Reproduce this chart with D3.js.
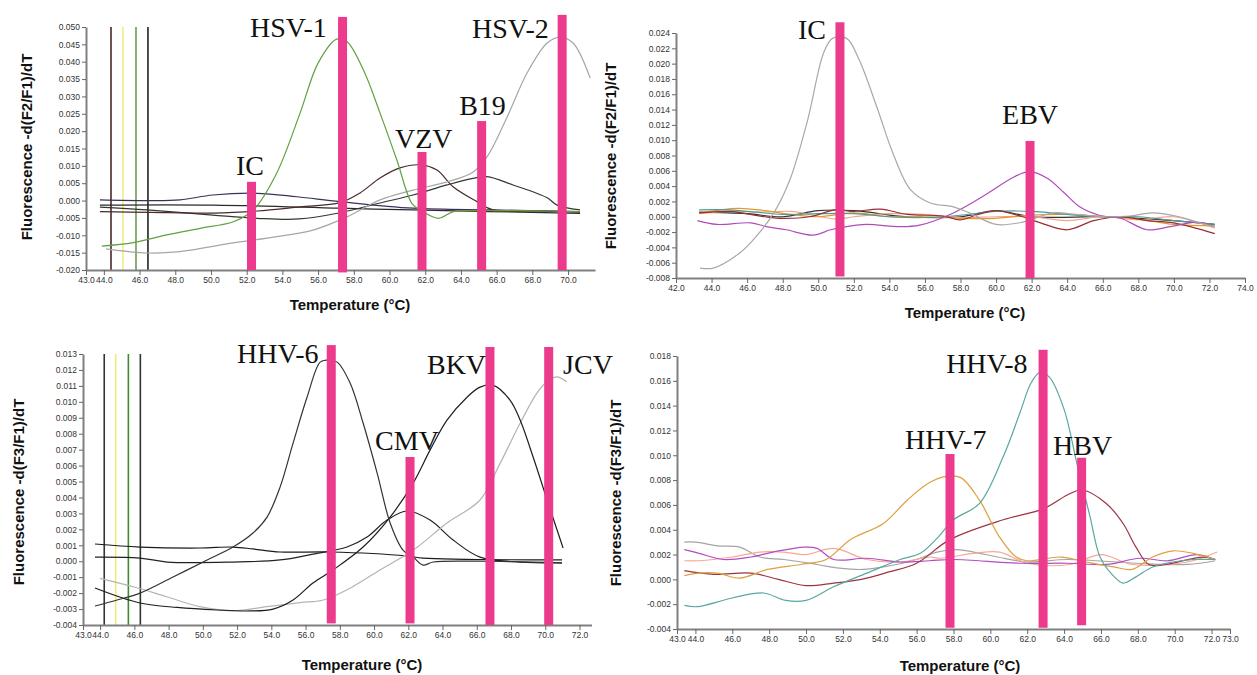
<!DOCTYPE html>
<html><head><meta charset="utf-8">
<script src="https://cdn.jsdelivr.net/npm/d3@7"></script>
<style>
body{margin:0;background:#fff;}
svg{display:block;}
.tick text{font-family:"Liberation Sans",Arial,sans-serif;font-size:8.5px;fill:#333;}
.domain{stroke:#808080;stroke-width:2;}
.tick line{stroke:#666;}
</style></head><body>
<svg id="c" width="1257" height="675"></svg>
<script>
// ---------- Panel A (top-left) ----------
const aXTicks = [43,44,46,48,50,52,54,56,58,60,62,64,66,68,70];
const aYTicks = [-0.020,-0.015,-0.010,-0.005,0,0.005,0.010,0.015,0.020,0.025,0.030,0.035,0.040,0.045,0.050];
const aHSV1 = [[43.88,-0.0131],[45.65,-0.0121],[47.52,-0.0099],[49.39,-0.0080],[51.25,-0.0061],[52.37,-0.0027],[53.68,0.0079],[54.99,0.0252],[56.0,0.0396],[57.04,0.0465],[57.61,0.0458],[58.54,0.0376],[59.47,0.0252],[60.41,0.0117],[61.25,-0.0008],[61.71,-0.0027],[62.74,-0.0051],[63.58,-0.0032],[65.07,-0.0029],[67.5,-0.0029],[70.67,-0.0032]];
const aHSV2 = [[44.12,-0.0139],[46.42,-0.0151],[48.10,-0.0148],[51.24,-0.0122],[53.14,-0.0108],[55.72,-0.0085],[57.62,-0.0047],[59.47,0.0002],[61.32,0.0030],[63.22,0.0054],[64.62,0.0080],[65.46,0.0126],[66.59,0.0241],[67.71,0.0368],[68.83,0.0454],[69.55,0.0471],[70.28,0.0454],[71.24,0.0353]];
const aVZV = [[43.78,-0.0032],[46.59,-0.0034],[50.11,-0.0036],[52.58,-0.0030],[54.99,-0.0018],[57.23,-0.0006],[58.35,0.0022],[59.47,0.0065],[60.59,0.0094],[61.71,0.0103],[62.66,0.0088],[63.56,0.0040],[64.90,-0.0003],[65.80,-0.0027],[68.43,-0.0030],[70.67,-0.0033]];
const aB19 = [[43.78,-0.0019],[46.42,-0.0027],[50.11,-0.0042],[52.58,-0.0051],[54.93,-0.0053],[57.23,-0.0035],[59.47,-0.0007],[61.32,0.0016],[63.22,0.0045],[64.68,0.0064],[65.46,0.0069],[66.92,0.0045],[68.83,0.0008],[69.39,-0.0013],[70.67,-0.0027]];
const aIC = [[43.78,0.0002],[46.42,0.0],[48.27,0.0002],[50.11,0.0016],[52.58,0.0021],[54.82,0.0011],[57.23,-0.0003],[61.32,-0.0022],[65.9,-0.0027],[70.67,-0.0032]];
const aFlat = [[43.78,-0.0013],[50.11,-0.0013],[57.23,-0.0022],[61.32,-0.0027],[70.67,-0.0037]];
const aRefTemps = [44.40,45.07,45.80,46.47];
const aBarNames = ["IC","HSV-1","VZV","B19","HSV-2"];
const aBarTemps = [52.27,57.37,61.82,65.16,69.67];
const aBarTops = [0.0054,0.0529,0.014,0.0229,0.0535];
const aBarBottoms = [-0.020,-0.0207,-0.020,-0.020,-0.020];
const aLabelAt = [[51.40,0.0074],[52.19,0.0471],[60.31,0.0152],[63.90,0.0247],[64.62,0.0468]];

// ---------- Panel B (top-right) ----------
const bXTicks = [42,44,46,48,50,52,54,56,58,60,62,64,66,68,70,72,74];
const bYTicks = [-0.008,-0.006,-0.004,-0.002,0,0.002,0.004,0.006,0.008,0.010,0.012,0.014,0.016,0.018,0.020,0.022,0.024];
const bIC = [[43.35,-0.0067],[44.1,-0.0067],[45.6,-0.0047],[46.5,-0.0026],[47.5,0.0005],[48.4,0.0048],[49.4,0.0126],[50.3,0.0214],[50.8,0.0233],[51.6,0.0233],[52.3,0.0205],[53.3,0.0143],[54.2,0.0083],[55.2,0.0035],[56.3,0.0018],[57.6,0.0013],[58.5,0.0005],[60.0,-0.0010],[61.5,-0.0007],[63.2,0.0005],[64.5,0.0003],[66.2,0.0],[67.5,0.0001],[68.8,0.0005],[70.3,0.0],[71.3,-0.0007],[72.3,-0.0013]];
const bEBV = [[43.2,-0.0005],[44.3,-0.0010],[46.2,-0.0008],[47.1,-0.0013],[48.2,-0.0017],[49.7,-0.0024],[50.7,-0.0017],[51.6,-0.0013],[52.7,-0.0010],[54.6,-0.0013],[55.7,-0.0011],[57.6,0.0005],[59.5,0.0030],[61.0,0.0052],[61.9,0.0059],[62.9,0.0050],[63.8,0.0032],[64.7,0.0013],[65.8,0.0002],[67.0,-0.0002],[68.5,-0.0017],[69.8,-0.0013],[71.3,-0.0007],[72.3,-0.0013]];
const bTeal = [[43.3,0.0009],[45,0.0009],[46.5,0.0006],[48,0.0003],[50,0.0004],[52,0.0004],[54,0.0],[56,-0.0001],[58,0.0002],[60,0.0007],[62,0.0007],[64,0.0003],[66,0.0],[68,0.0],[70,-0.0005],[72.3,-0.0010]];
const bOrange = [[43.3,0.0005],[45.5,0.0011],[47,0.0008],[48.5,0.0003],[50,0.0],[52,0.0005],[54,0.0],[56,0.0],[58,-0.0002],[60,-0.0002],[62,0.0002],[64,0.0003],[66,0.0],[68,-0.0003],[70,-0.0010],[72.3,-0.0012]];
const bDarkRed = [[43.3,0.0005],[45,0.0007],[47,0.0],[48,-0.0002],[49.5,0.0],[51,0.0009],[52,0.0007],[53.5,0.0010],[55,0.0003],[57,0.0001],[58,-0.0004],[59,0.0003],[60,0.0008],[61.5,0.0],[62.5,-0.0008],[64,-0.0017],[65.5,-0.0005],[67,0.0],[68.5,-0.0005],[70,-0.0008],[72.3,-0.0022]];
const bSalmon = [[43.3,0.0004],[45,0.0007],[47,0.0006],[48.5,0.0007],[51,-0.0003],[52,0.0],[54,0.0004],[56,0.0003],[58,-0.0001],[60,0.0],[62,0.0],[64,-0.0005],[66,0.0],[68,-0.0004],[70,0.0],[72.3,-0.0015]];
const bDark = [[43.3,0.0006],[46,0.0004],[48,0.0],[50,0.0008],[52,0.0008],[55,0.0],[58,0.0],[60,0.0008],[62,0.0],[66,0.0],[68,-0.0002],[70,-0.0005],[72.3,-0.0010]];
const bBarNames = ["IC","EBV"];
const bBarTemps = [51.22,61.91];
const bBarTops = [0.0254,0.0099];
const bBarBottoms = [-0.0078,-0.008];
const bLabelAt = [[48.86,0.0232],[60.34,0.0121]];

// ---------- Panel C (bottom-left) ----------
const cXTicks = [43,44,46,48,50,52,54,56,58,60,62,64,66,68,70,72];
const cYTicks = [-0.004,-0.003,-0.002,-0.001,0,0.001,0.002,0.003,0.004,0.005,0.006,0.007,0.008,0.009,0.010,0.011,0.012,0.013];
const cHHV6 = [[43.70,-0.00281],[44.99,-0.00243],[46.33,-0.00200],[48.26,-0.00099],[50.25,0.00008],[51.76,0.00089],[52.93,0.00177],[53.75,0.00277],[54.51,0.00465],[55.27,0.00741],[56.09,0.01030],[56.85,0.01249],[57.25,0.01262],[57.84,0.01249],[58.60,0.01118],[59.36,0.00867],[60.18,0.00553],[60.94,0.00240],[61.69,0.00070],[62.28,0.00026],[62.86,-0.00024],[63.45,-0.00005],[66.2,0.0],[70.98,-0.0001]];
const cCMV = [[43.70,0.00026],[46.33,0.00020],[47.91,-0.00005],[51.76,-0.00005],[54.51,0.00008],[56.43,0.00045],[58.42,0.00089],[59.59,0.00152],[60.76,0.00258],[61.93,0.00315],[63.27,0.00258],[64.62,0.00133],[66.19,0.00026],[68.53,-0.00005],[70.98,-0.0001]];
const cFlat = [[43.70,0.00108],[46.33,0.00089],[49.84,0.00083],[51.76,0.00089],[52.93,0.00077],[54.51,0.00058],[57.43,0.00058],[61.93,0.00033],[62.86,0.0002],[70.98,0.00008]];
const cBKV = [[43.70,-0.00168],[46.33,-0.00262],[48.5,-0.0029],[50.83,-0.00306],[52.75,-0.00312],[54.10,-0.00300],[55.27,-0.00243],[56.43,-0.00137],[57.60,-0.00055],[59.36,0.00089],[60.94,0.00277],[62.28,0.00490],[63.27,0.00697],[64.26,0.00885],[65.43,0.01029],[66.19,0.01092],[66.95,0.01105],[67.94,0.01011],[68.53,0.00886],[69.29,0.00654],[70.11,0.00384],[71.04,0.00083]];
const cJCV = [[43.99,-0.00107],[45.94,-0.00160],[47.89,-0.00223],[49.83,-0.00285],[51.78,-0.00311],[53.73,-0.00285],[55.68,-0.00260],[57.04,-0.00243],[58.40,-0.00181],[60.35,-0.00055],[62.29,0.00070],[64.24,0.00238],[66.19,0.00384],[67.36,0.00614],[68.53,0.00865],[69.50,0.01053],[70.09,0.01126],[70.67,0.01157],[71.25,0.01126]];
const cRefTemps = [44.24,44.91,45.65,46.35];
const cBarNames = ["HHV-6","CMV","BKV","JCV"];
const cBarTemps = [57.5,62.1,66.77,70.2];
const cBarTops = [0.01356,0.00654,0.01344,0.01344];
const cBarBottoms = [-0.0039,-0.0039,-0.004,-0.004];
const cLabelAt = [[52.0,0.01243],[60.06,0.00698],[63.09,0.01174],[71.04,0.01174]];

// ---------- Panel D (bottom-right) ----------
const dXTicks = [43,44,46,48,50,52,54,56,58,60,62,64,66,68,70,72,73];
const dYTicks = [-0.004,-0.002,0,0.002,0.004,0.006,0.008,0.010,0.012,0.014,0.016,0.018];
const dTeal = [[43.4,-0.0021],[44.1,-0.0022],[46,-0.0015],[47.7,-0.0011],[48.9,-0.0017],[50,-0.0017],[51.5,-0.0006],[53.3,0.0005],[55.1,0.0016],[56.2,0.0021],[57.1,0.0033],[58,0.0048],[59.4,0.0061],[60.7,0.0099],[61.6,0.0134],[62.2,0.0158],[62.7,0.0167],[63.2,0.0163],[64,0.0137],[64.7,0.0093],[65.4,0.0051],[65.95,0.0018],[66.6,0.0004],[67.2,-0.0003],[67.9,0.0002],[68.8,0.0010],[69.9,0.0014],[71,0.0016],[72.2,0.0016]];
const dOrange = [[43.4,0.0003],[44.2,0.0005],[45.2,0.0005],[46.4,0.0001],[47.9,0.0008],[49.7,0.0012],[51.1,0.0016],[52.4,0.0032],[54.2,0.0045],[55.5,0.0064],[56.7,0.0078],[57.6,0.0083],[58.4,0.0082],[59.4,0.0064],[60.5,0.0034],[61.4,0.0018],[62,0.0015],[63.8,0.0018],[65.2,0.0014],[66.7,0.0010],[67.7,0.0008],[68.8,0.0018],[69.9,0.0023],[71,0.0021],[72.2,0.0016]];
const dDarkRed = [[43.4,0.0007],[45,0.0004],[47,0.0005],[48.5,0.0],[50,-0.0005],[51.5,-0.0003],[53,0.0],[54.5,0.0006],[56,0.0013],[57.8,0.0032],[60.7,0.0048],[62.9,0.0057],[64.3,0.0069],[65,0.0072],[66.3,0.0061],[67.2,0.0045],[67.9,0.0026],[68.6,0.0012],[69.5,0.0012],[71.5,0.0018],[72.2,0.0016]];
const dGray = [[43.4,0.0030],[44,0.0030],[45.2,0.0027],[46.4,0.0026],[47.5,0.0018],[48.8,0.0016],[50.6,0.0012],[51.8,0.0009],[53.1,0.0008],[54.2,0.0010],[56,0.0016],[57.1,0.0022],[58.2,0.0024],[59.1,0.0022],[60.4,0.0018],[62,0.0014],[64.2,0.0016],[67.9,0.0013],[70.7,0.0012],[72.2,0.0015]];
const dMagenta = [[43.4,0.0024],[44.2,0.0021],[45.5,0.0016],[47,0.0018],[48.2,0.0022],[49.9,0.0026],[50.6,0.0025],[51.5,0.0016],[53.3,0.0017],[55.1,0.0014],[56.7,0.0015],[58,0.0016],[61.6,0.0013],[64.2,0.0013],[66.3,0.0012],[68.1,0.0017],[69.6,0.0015],[71.2,0.0020],[72.2,0.0016]];
const dSalmon = [[43.4,0.0015],[44.2,0.0015],[46,0.0018],[47.5,0.0022],[48.8,0.0022],[50,0.0020],[51.5,0.0025],[53.3,0.0016],[55.1,0.0014],[56.7,0.0018],[57.3,0.0017],[59.1,0.0021],[60.5,0.0022],[62,0.0013],[64.3,0.0012],[66,0.0020],[67.7,0.0012],[70.7,0.0014],[72.3,0.0022]];
const dBarNames = ["HHV-7","HHV-8","HBV"];
const dBarTemps = [57.81,62.86,64.95];
const dBarTops = [0.0101,0.0185,0.0098];
const dBarBottoms = [-0.0039,-0.0039,-0.0037];
const dLabelAt = [[55.37,0.01051],[57.60,0.01663],[63.40,0.01002]];

// ---------- drawing ----------
const svg = d3.select("#c");
const fmt3 = d => d3.format(".3f")(d).replace("\u2212","-");
const fmt1 = d3.format(".1f");
const PINK = "#ec3b8d";

function panel(cfg){
  const x = d3.scaleLinear().domain(cfg.xDomain).range(cfg.xRange);
  const y = d3.scaleLinear().domain(cfg.yDomain).range(cfg.yRange);
  const g = svg.append("g");
  (cfg.refTemps||[]).forEach((t,i)=>{
    g.append("line").attr("x1",x(t)).attr("x2",x(t))
      .attr("y1",y(cfg.yDomain[1])).attr("y2",y(cfg.yDomain[0]))
      .attr("stroke",cfg.refColors[i]).attr("stroke-width",1.6);
  });
  const line = d3.line().x(d=>x(d[0])).y(d=>y(d[1])).curve(d3.curveCatmullRom.alpha(0.5));
  cfg.series.forEach(s=>{
    g.append("path").attr("d",line(s.data)).attr("fill","none")
      .attr("stroke",s.color).attr("stroke-width",s.w||1.2);
  });
  const xAxis = d3.axisBottom(x).tickValues(cfg.xTicks).tickFormat(fmt1).tickSize(5).tickSizeOuter(0).tickPadding(2);
  const yAxis = d3.axisLeft(y).tickValues(cfg.yTicks).tickFormat(fmt3).tickSize(4).tickSizeOuter(0).tickPadding(2);
  g.append("g").attr("transform",`translate(0,${cfg.yRange[0]})`).call(xAxis);
  g.append("g").attr("transform",`translate(${cfg.xRange[0]},0)`).call(yAxis);
  cfg.barTemps.forEach((t,i)=>{
    g.append("rect").attr("x",x(t)-4.5).attr("width",9)
      .attr("y",y(cfg.barTops[i])).attr("height",y(cfg.barBottoms[i])-y(cfg.barTops[i]))
      .attr("fill",PINK);
  });
  cfg.barNames.forEach((n,i)=>{
    g.append("text").attr("x",x(cfg.labelAt[i][0])).attr("y",y(cfg.labelAt[i][1]))
      .attr("font-family","'Liberation Serif','Times New Roman',serif").attr("font-size",28)
      .attr("fill","#111").text(n);
  });
  g.append("text").attr("x",cfg.xTitle[0]).attr("y",cfg.xTitle[1]).attr("text-anchor","middle")
    .attr("font-family","'Liberation Sans',Arial,sans-serif").attr("font-weight","bold").attr("font-size",15)
    .attr("fill","#111").text("Temperature (\u00B0C)");
  g.append("text").attr("transform",`translate(${cfg.yTitle[0]},${cfg.yTitle[1]}) rotate(-90)`)
    .attr("text-anchor","middle").attr("dy","0.35em")
    .attr("font-family","'Liberation Sans',Arial,sans-serif").attr("font-weight","bold").attr("font-size",15)
    .attr("fill","#111").text(cfg.yLabel);
}

panel({
  xDomain:[43,71.51], xRange:[86,595], yDomain:[-0.02,0.05], yRange:[270,27],
  xTicks:aXTicks, yTicks:aYTicks,
  refTemps:aRefTemps, refColors:["#4a2828","#f3eb86","#6c9c50","#222"],
  series:[
    {data:aFlat,color:"#2a2a2a"},
    {data:aIC,color:"#3d2f5c"},
    {data:aB19,color:"#2f3a30"},
    {data:aVZV,color:"#4a2a2a"},
    {data:aHSV2,color:"#a6a6a6"},
    {data:aHSV1,color:"#62a040"}
  ],
  barNames:aBarNames, barTemps:aBarTemps, barTops:aBarTops, barBottoms:aBarBottoms, labelAt:aLabelAt,
  xTitle:[350,310], yTitle:[27,147], yLabel:"Fluorescence -d(F2/F1)/dT"
});

panel({
  xDomain:[42,74], xRange:[676,1245], yDomain:[-0.008,0.024], yRange:[278,33],
  xTicks:bXTicks, yTicks:bYTicks,
  series:[
    {data:bDark,color:"#333"},
    {data:bSalmon,color:"#f5a48f"},
    {data:bOrange,color:"#e29a2c"},
    {data:bTeal,color:"#4a9e9a"},
    {data:bDarkRed,color:"#9a2e30"},
    {data:bEBV,color:"#b04cba"},
    {data:bIC,color:"#a8a8a8"}
  ],
  barNames:bBarNames, barTemps:bBarTemps, barTops:bBarTops, barBottoms:bBarBottoms, labelAt:bLabelAt,
  xTitle:[965,318], yTitle:[611,156], yLabel:"Fluorescence -d(F2/F1)/dT"
});

panel({
  xDomain:[43,72.7], xRange:[83,591.5], yDomain:[-0.004,0.013], yRange:[625,354],
  xTicks:cXTicks, yTicks:cYTicks,
  refTemps:cRefTemps, refColors:["#333","#f3eb78","#3f8a30","#333"],
  series:[
    {data:cFlat,color:"#1a1a1a"},
    {data:cCMV,color:"#222"},
    {data:cJCV,color:"#b4b4b4"},
    {data:cBKV,color:"#1e1e1e"},
    {data:cHHV6,color:"#333"}
  ],
  barNames:cBarNames, barTemps:cBarTemps, barTops:cBarTops, barBottoms:cBarBottoms, labelAt:cLabelAt,
  xTitle:[362,670], yTitle:[19,492], yLabel:"Fluorescence -d(F3/F1)/dT"
});

panel({
  xDomain:[43,73], xRange:[677,1230], yDomain:[-0.004,0.018], yRange:[629,356],
  xTicks:dXTicks, yTicks:dYTicks,
  series:[
    {data:dGray,color:"#a4a4a4"},
    {data:dSalmon,color:"#f7a896"},
    {data:dMagenta,color:"#b24ec0"},
    {data:dDarkRed,color:"#9e3440"},
    {data:dOrange,color:"#dca040"},
    {data:dTeal,color:"#5aa8a0"}
  ],
  barNames:dBarNames, barTemps:dBarTemps, barTops:dBarTops, barBottoms:dBarBottoms, labelAt:dLabelAt,
  xTitle:[960,671], yTitle:[616,493], yLabel:"Fluorescence -d(F3/F1)/dT"
});
</script>
</body></html>
